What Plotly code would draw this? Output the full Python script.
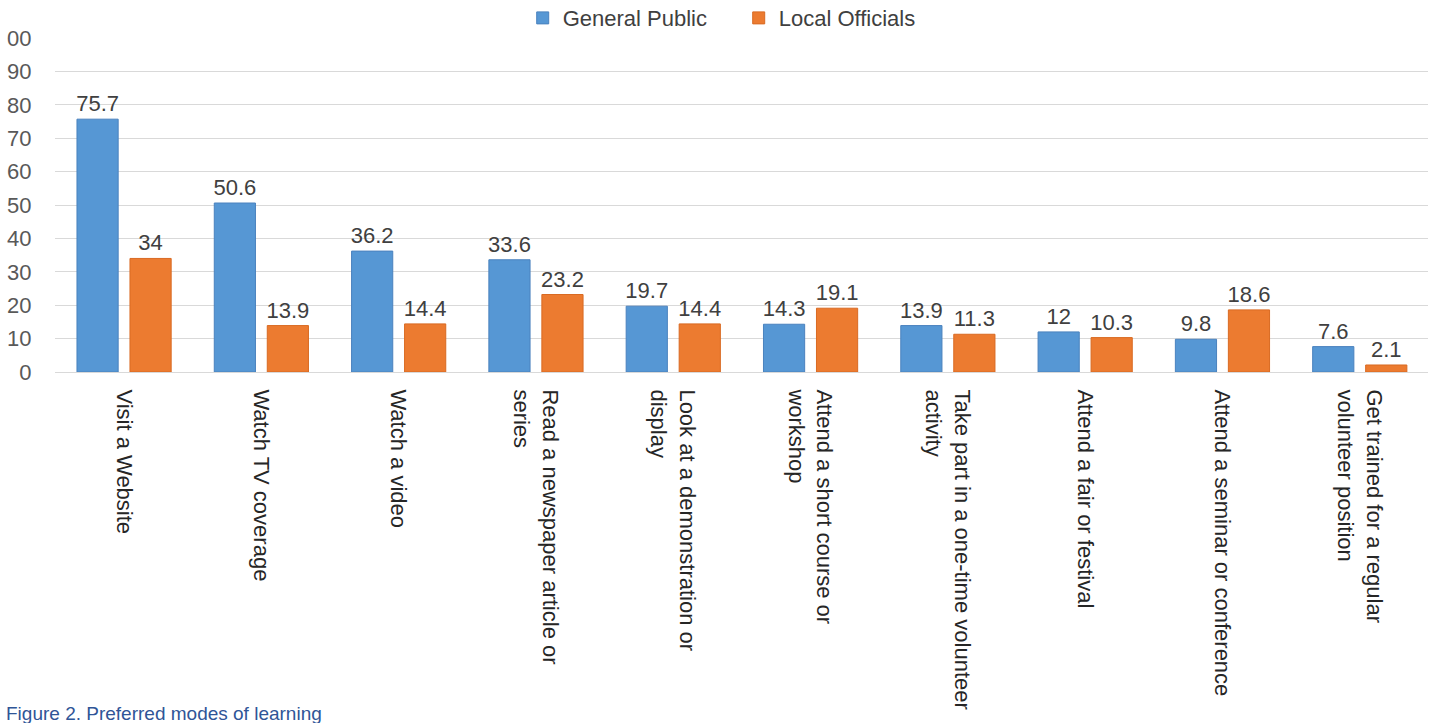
import plotly.graph_objects as go

categories = [
    "Visit a Website",
    "Watch TV coverage",
    "Watch a video",
    "Read a newspaper article or<br>series",
    "Look at a demonstration or<br>display",
    "Attend a short course or<br>workshop",
    "Take part in a one-time volunteer<br>activity",
    "Attend a fair or festival",
    "Attend a seminar or conference",
    "Get trained for a regular<br>volunteer position",
]
general_public = [75.7, 50.6, 36.2, 33.6, 19.7, 14.3, 13.9, 12, 9.8, 7.6]
local_officials = [34, 13.9, 14.4, 23.2, 14.4, 19.1, 11.3, 10.3, 18.6, 2.1]
y_tick_values = [0, 10, 20, 30, 40, 50, 60, 70, 80, 90, 100]
y_tick_labels = ["0", "10", "20", "30", "40", "50", "60", "70", "80", "90", "00"]
caption = "Figure 2. Preferred modes of learning"

FONT = "Liberation Sans, Arial, sans-serif"

fig = go.Figure()
fig.add_trace(go.Bar(
    name="General Public", x=categories, y=general_public,
    text=[f"{v:g}" for v in general_public], textposition="outside",
    constraintext="none", cliponaxis=False,
    textfont=dict(size=22, color="#404040", family=FONT),
    marker=dict(color="#5697D4", line=dict(color="#4A82BE", width=1)),
    width=0.30, offset=-0.34,
))
fig.add_trace(go.Bar(
    name="Local Officials", x=categories, y=local_officials,
    text=[f"{v:g}" for v in local_officials], textposition="outside",
    constraintext="none", cliponaxis=False,
    textfont=dict(size=22, color="#404040", family=FONT),
    marker=dict(color="#EC7B30", line=dict(color="#D96A22", width=1)),
    width=0.30, offset=0.046,
))

fig.update_layout(
    width=1436, height=723,
    margin=dict(l=55, r=8, t=38, b=351, autoexpand=False),
    paper_bgcolor="white", plot_bgcolor="white",
    barmode="overlay",
    font=dict(family=FONT, color="#404040"),
    legend=dict(
        orientation="h", xref="container", x=0.364, xanchor="left",
        yref="container", y=0.975, yanchor="middle",
        font=dict(size=22, color="#404040", family=FONT),
        itemwidth=30, traceorder="normal", entrywidth=171,
    ),
    xaxis=dict(
        tickangle=90, tickfont=dict(size=22, color="#262626", family=FONT),
        showgrid=False, showline=True, linecolor="#D9D9D9", linewidth=1,
        ticks="outside", ticklen=12, tickcolor="rgba(0,0,0,0)",
        range=[-0.5, 9.5],
    ),
    yaxis=dict(
        range=[0, 100], tickvals=y_tick_values, ticktext=y_tick_labels,
        tickfont=dict(size=22, color="#595959", family=FONT),
        showgrid=True, gridcolor="#D9D9D9", gridwidth=1,
        zeroline=False, showline=False,
        ticks="outside", ticklen=18, tickcolor="rgba(0,0,0,0)",
    ),
    annotations=[dict(
        text=caption, xref="paper", yref="paper",
        x=-0.037, xanchor="left", y=-0.985, yanchor="top",
        showarrow=False, font=dict(size=19, color="#2F5597", family=FONT),
    )],
)

fig.write_html("out.html")
